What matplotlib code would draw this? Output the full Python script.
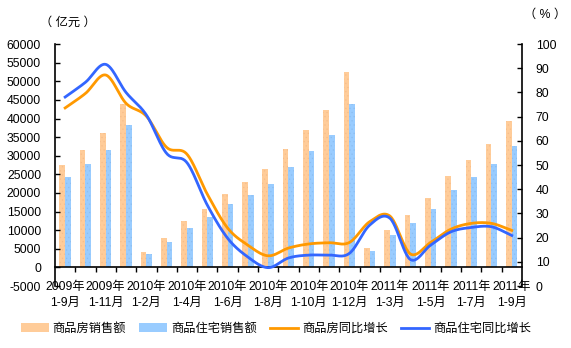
import numpy as np
import matplotlib
matplotlib.use('Agg')
from matplotlib import pyplot as plt
from matplotlib.patches import Patch
from matplotlib.lines import Line2D

plt.rcParams['font.family'] = ['Liberation Sans', 'Noto Sans CJK SC', 'DejaVu Sans']
plt.rcParams['font.size'] = 8.8
plt.rcParams['hatch.linewidth'] = 0.4
plt.rcParams['axes.unicode_minus'] = False

# periodos acumulados
periodos = ['2009年\n1-9月', '2009年\n1-10月', '2009年\n1-11月', '2009年\n1-12月',
            '2010年\n1-2月', '2010年\n1-3月', '2010年\n1-4月', '2010年\n1-5月',
            '2010年\n1-6月', '2010年\n1-7月', '2010年\n1-8月', '2010年\n1-9月',
            '2010年\n1-10月', '2010年\n1-11月', '2010年\n1-12月',
            '2011年\n1-2月', '2011年\n1-3月', '2011年\n1-4月', '2011年\n1-5月',
            '2011年\n1-6月', '2011年\n1-7月', '2011年\n1-8月', '2011年\n1-9月']
# ventas (亿元)
venta_total = [27500, 31600, 36100, 43900, 4100, 7900, 12400, 15700, 19700,
               22900, 26400, 31800, 36900, 42300, 52500, 5200, 10000, 14100,
               18600, 24500, 28800, 33100, 39400]
venta_viv = [24300, 27800, 31500, 38300, 3600, 6800, 10600, 13500, 17000,
             19400, 22400, 27000, 31300, 35600, 43900, 4400, 8700, 11900,
             15700, 20800, 24300, 27800, 32600]
# crecimiento interanual (%)
crec_total = [73.6, 79.6, 87.2, 75.5, 70.2, 57.3, 54.5, 38.0, 24.0, 16.9,
              12.5, 15.7, 17.4, 17.9, 18.0, 26.6, 28.9, 13.3, 18.0, 23.5,
              25.9, 25.9, 23.0]
crec_viv = [78.1, 84.2, 91.6, 80.0, 70.7, 54.8, 51.0, 33.5, 19.8, 12.0,
            7.6, 11.6, 12.8, 12.8, 13.5, 25.2, 28.0, 11.0, 16.9, 22.4,
            24.2, 24.5, 20.9]

etiquetas = ['商品房销售额', '商品住宅销售额', '商品房同比增长', '商品住宅同比增长']
c_naranja = '#FFCC99'
c_celeste = '#99CCFF'
c_linea1 = '#FF9900'
c_linea2 = '#3366FF'


def suavizar(y, n=24):
    # spline Catmull-Rom que pasa por todos los puntos
    y = np.asarray(y, float)
    p = np.concatenate([[2 * y[0] - y[1]], y, [2 * y[-1] - y[-2]]])
    xs, ys = [], []
    t = np.linspace(0, 1, n, endpoint=False)
    for i in range(len(y) - 1):
        p0, p1, p2, p3 = p[i:i + 4]
        s = 0.5 * ((2 * p1) + (-p0 + p2) * t
                   + (2 * p0 - 5 * p1 + 4 * p2 - p3) * t ** 2
                   + (-p0 + 3 * p1 - 3 * p2 + p3) * t ** 3)
        xs.append(i + t)
        ys.append(s)
    xs.append([len(y) - 1])
    ys.append([y[-1]])
    return np.concatenate(xs), np.concatenate(ys)


x = np.arange(len(periodos))
fig = plt.figure(figsize=(5.71, 3.48), dpi=100)
ax = fig.add_axes([0.0963, 0.178, 0.8178, 0.6954])

w = 0.28
ax.bar(x - w / 2, venta_total, w, color=c_naranja, edgecolor='#F7BD8A',
       linewidth=0, hatch='....')
ax.bar(x + w / 2, venta_viv, w, color=c_celeste, edgecolor='#8CBDF0',
       linewidth=0, hatch='....')

ax.set_xlim(-0.5, len(periodos) - 0.5)
ax.set_ylim(-5000, 60000)
ax.set_yticks(np.arange(-5000, 60001, 5000))
ax.tick_params(axis='y', direction='in', length=3.5, pad=10, width=1)
ax.spines['bottom'].set_position(('data', 0))
ax.spines['top'].set_visible(False)
ax.spines['right'].set_visible(False)
for sp in ax.spines.values():
    sp.set_linewidth(1.2)

# marcas entre categorias y etiquetas cada dos periodos
ax.set_xticks(np.arange(0.5, len(periodos) - 1, 1))
ax.set_xticklabels([])
ax.tick_params(axis='x', which='major', direction='out', length=3.5, width=1)
ax.set_xticks(x[::2], [periodos[i] for i in x[::2]], minor=True)
ax.tick_params(axis='x', which='minor', length=0, pad=9.5)
for t in ax.get_xticklabels(minor=True):
    t.set_linespacing(1.45)

ax2 = ax.twinx()
ax2.set_ylim(0, 100)
ax2.set_yticks(np.arange(0, 101, 10))
ax2.tick_params(axis='y', direction='in', length=3.5, pad=10, width=1)
for lado in ['top', 'left', 'bottom']:
    ax2.spines[lado].set_visible(False)
ax2.spines['right'].set_linewidth(1.2)

xs, ys = suavizar(crec_total)
ax2.plot(xs, ys, color=c_linea1, lw=2)
xs, ys = suavizar(crec_viv)
ax2.plot(xs, ys, color=c_linea2, lw=2)

fig.text(0.118, 0.934, '（ 亿元 ）', ha='center', va='center')
fig.text(0.954, 0.957, '（ % ）', ha='center', va='center')

manejadores = [Patch(facecolor=c_naranja, edgecolor='none'),
               Patch(facecolor=c_celeste, edgecolor='none'),
               Line2D([], [], color=c_linea1, lw=2),
               Line2D([], [], color=c_linea2, lw=2)]
fig.legend(manejadores, etiquetas, loc='center', bbox_to_anchor=(0.483, 0.055),
           ncol=4, frameon=False, handlelength=2.3, handletextpad=0.3,
           columnspacing=1.1, fontsize=8.8)

fig.savefig('out.png', dpi=100)
